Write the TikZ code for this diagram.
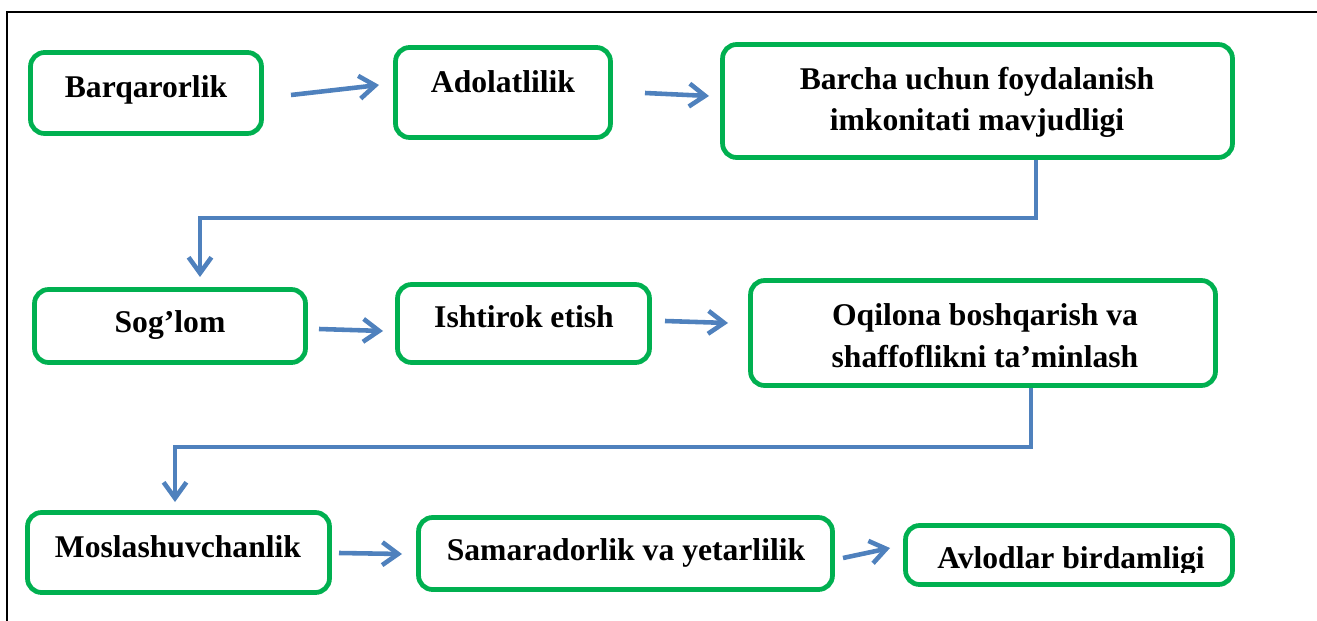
\documentclass[tikz,border=0pt]{standalone}
\usepackage{fontspec}
\setmainfont{Liberation Serif}
\usetikzlibrary{arrows.meta}

\definecolor{boxgreen}{HTML}{00B050}
\definecolor{linkblue}{HTML}{4F81BD}

\tikzset{box/.style={draw=boxgreen,line width=2.7pt,rounded corners=0.28cm,fill=white,inner sep=0},
box text/.style={font=\fontsize{18}{23.5}\selectfont\bfseries,anchor=base,align=center,inner sep=0},
link/.style={draw=linkblue,line width=2.6pt,-{Straight Barb[length=9pt,width=13pt]}},
frame/.style={draw=black,line width=1.1pt}}

\begin{document}
\begin{tikzpicture}[x=0.02cm,y=-0.02cm]
\useasboundingbox (0,0) rectangle (1317,621);

%% frame
\draw [frame] (7,621) -- (7,12) -- (1317,12);

%% boxes
\node [box,minimum width=4.62cm,minimum height=1.62cm] (b1) at (146,93) {};
\node [box,minimum width=4.30cm,minimum height=1.80cm] (b2) at (503,92.5) {};
\node [box,minimum width=10.20cm,minimum height=2.26cm] (b3) at (977.5,101) {};
\node [box,minimum width=5.42cm,minimum height=1.46cm] (b4) at (170,326) {};
\node [box,minimum width=5.04cm,minimum height=1.56cm] (b5) at (523.5,323.5) {};
\node [box,minimum width=9.30cm,minimum height=2.10cm] (b6) at (983,333) {};
\node [box,minimum width=6.04cm,minimum height=1.60cm] (b7) at (178.5,552.5) {};
\node [box,minimum width=8.28cm,minimum height=1.44cm] (b8) at (625.5,553.5) {};
\node [box,minimum width=6.54cm,minimum height=1.18cm] (b9) at (1069,555) {};

%% box texts (base of a two-line text is its last line)
\node [box text] (t1) at (146,98) {Barqarorlik};
\node [box text] (t2) at (503,93) {Adolatlilik};
\node [box text] (t3) at (977,131) {Barcha uchun foydalanish\\imkonitati mavjudligi};
\node [box text] (t4) at (170,332) {Sog’lom};
\node [box text] (t5) at (524,327) {Ishtirok etish};
\node [box text] (t6) at (985,367) {Oqilona boshqarish va\\shaffoflikni ta’minlash};
\node [box text] (t7) at (178,557) {Moslashuvchanlik};
\node [box text] (t8) at (626,560) {Samaradorlik va yetarlilik};
\begin{scope}
\clip (903,523) rectangle (1235,572);
\node [box text] (t9) at (1071,568) {Avlodlar birdamligi};
\end{scope}

%% arrow ends
\coordinate (a1s) at (291,95);
\coordinate (a1e) at (379,85);
\coordinate (a2s) at (645,93);
\coordinate (a2e) at (709,96);
\coordinate (a3s) at (319,329);
\coordinate (a3e) at (383,331);
\coordinate (a4s) at (665,321);
\coordinate (a4e) at (728,323);
\coordinate (a5s) at (339,553);
\coordinate (a5e) at (402,554);
\coordinate (a6s) at (843,558);
\coordinate (a6e) at (890,548);

%% elbow corners
\coordinate (k1) at (1036,218);
\coordinate (k2) at (200,218);
\coordinate (k3) at (200,277);
\coordinate (k4) at (1031,447);
\coordinate (k5) at (175,447);
\coordinate (k6) at (175,502);

%% straight arrows
\draw [link] (a1s) -- (a1e);
\draw [link] (a2s) -- (a2e);
\draw [link] (a3s) -- (a3e);
\draw [link] (a4s) -- (a4e);
\draw [link] (a5s) -- (a5e);
\draw [link] (a6s) -- (a6e);

%% elbow arrows
\draw [link] (b3.south -| k1) -- (k1) -- (k2) -- (k3);
\draw [link] (b6.south -| k4) -- (k4) -- (k5) -- (k6);

\end{tikzpicture}
\end{document}
